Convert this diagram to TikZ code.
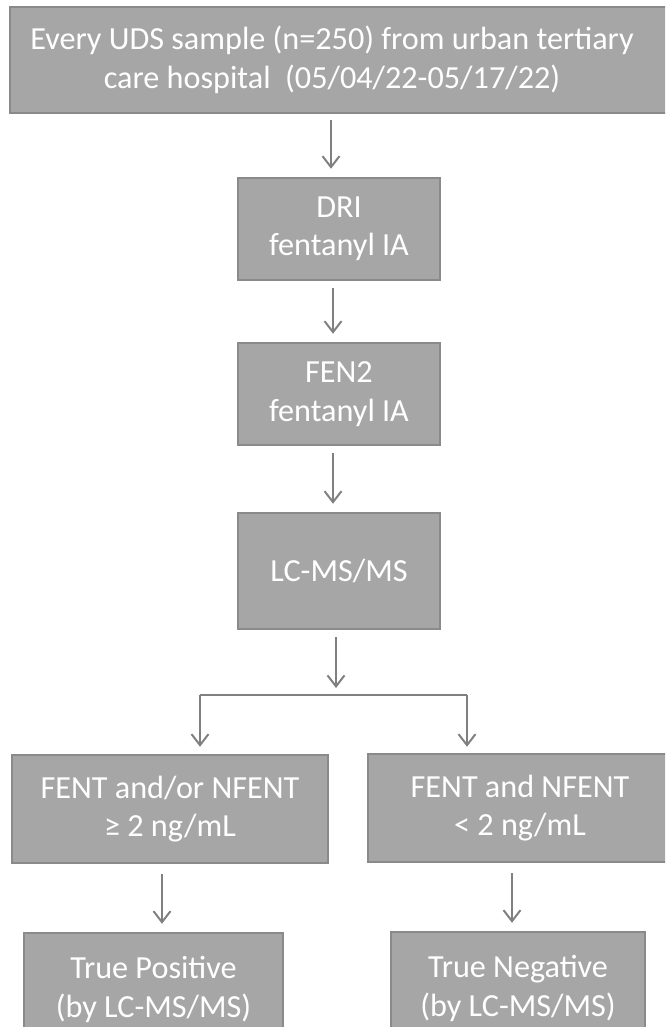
\documentclass[tikz,border=0pt]{standalone}
\usepackage{fontspec}
\setmainfont{Carlito}
\usetikzlibrary{arrows.meta}
\definecolor{boxfill}{HTML}{A6A6A6}
\definecolor{boxline}{HTML}{8A8A8A}
\definecolor{arrowgray}{HTML}{808080}
\tikzset{
  stepbox/.style={rectangle, fill=boxfill, draw=boxline, line width=2.5pt,
    text=white, align=center, inner sep=0pt,
    font=\fontsize{32.2}{38.5}\selectfont},
  txtonly/.style={rectangle, text=white, align=center, inner sep=0pt,
    font=\fontsize{32.2}{38.5}\selectfont},
  arr/.style={draw=arrowgray, line width=2pt,
    -{Straight Barb[length=11pt,width=17pt]}, shorten <=7pt, shorten >=8pt},
  link/.style={draw=arrowgray, line width=2pt}
}
\begin{document}
\begin{tikzpicture}[x=1pt,y=1pt]
\useasboundingbox (0,0) rectangle (665,-1027);
\clip (0,0) rectangle (665,-1027);
% top box (extends past the right edge)
\draw[fill=boxfill, draw=boxline, line width=2.5pt] (10,-7) rectangle (720,-113);
\node[txtonly, minimum height=106pt] (top) at (332,-60)
  {Every UDS sample (n=250) from urban tertiary\\care hospital\ \ (05/04/22-05/17/22)};
\node[stepbox, minimum width=202pt, minimum height=102pt] (dri) at (339,-229)
  {DRI\\fentanyl IA};
\node[stepbox, minimum width=202pt, minimum height=102pt] (fen) at (339,-394)
  {FEN2\\fentanyl IA};
\node[stepbox, minimum width=202pt, minimum height=116pt] (lc) at (339,-571)
  {LC-MS/MS};
\node[stepbox, minimum width=316pt, minimum height=108pt] (pos) at (170,-809)
  {FENT and/or NFENT\\≥ 2 ng/mL};
\node[stepbox, minimum width=304pt, minimum height=108pt] (neg) at (520,-808)
  {FENT and NFENT\\< 2 ng/mL};
% bottom boxes run past the lower edge; an empty third line lifts the text
\node[stepbox, minimum width=259pt, minimum height=146pt] (tp) at (153.5,-1006)
  {True Positive\\(by LC-MS/MS)\\\mbox{}};
\node[stepbox, minimum width=254pt, minimum height=146pt] (tn) at (518,-1005)
  {True Negative\\(by LC-MS/MS)\\\mbox{}};
% branch points
\coordinate (br) at (336,-695);
\coordinate (brl) at (200,-695);
\coordinate (brr) at (467,-695);
% connectors
\draw[arr] ([xshift=-1pt]top.south) -- ([xshift=-1pt]top.south |- dri.north);
\draw[arr] ([xshift=-6pt]dri.south) -- ([xshift=-6pt]dri.south |- fen.north);
\draw[arr] ([xshift=-6pt]fen.south) -- ([xshift=-6pt]fen.south |- lc.north);
\draw[arr, shorten >=7pt] (lc.south -| br) -- (br);
\draw[link] (brl) -- (brr);
\draw[arr, shorten <=0pt, shorten >=7pt] (brl) -- (brl |- pos.north);
\draw[arr, shorten <=0pt, shorten >=6pt] (brr) -- (brr |- neg.north);
\draw[arr, shorten <=10pt] (162,0 |- pos.south) -- (162,0 |- tp.north);
\draw[arr, shorten <=10pt] (512,0 |- neg.south) -- (512,0 |- tn.north);
\end{tikzpicture}
\end{document}
